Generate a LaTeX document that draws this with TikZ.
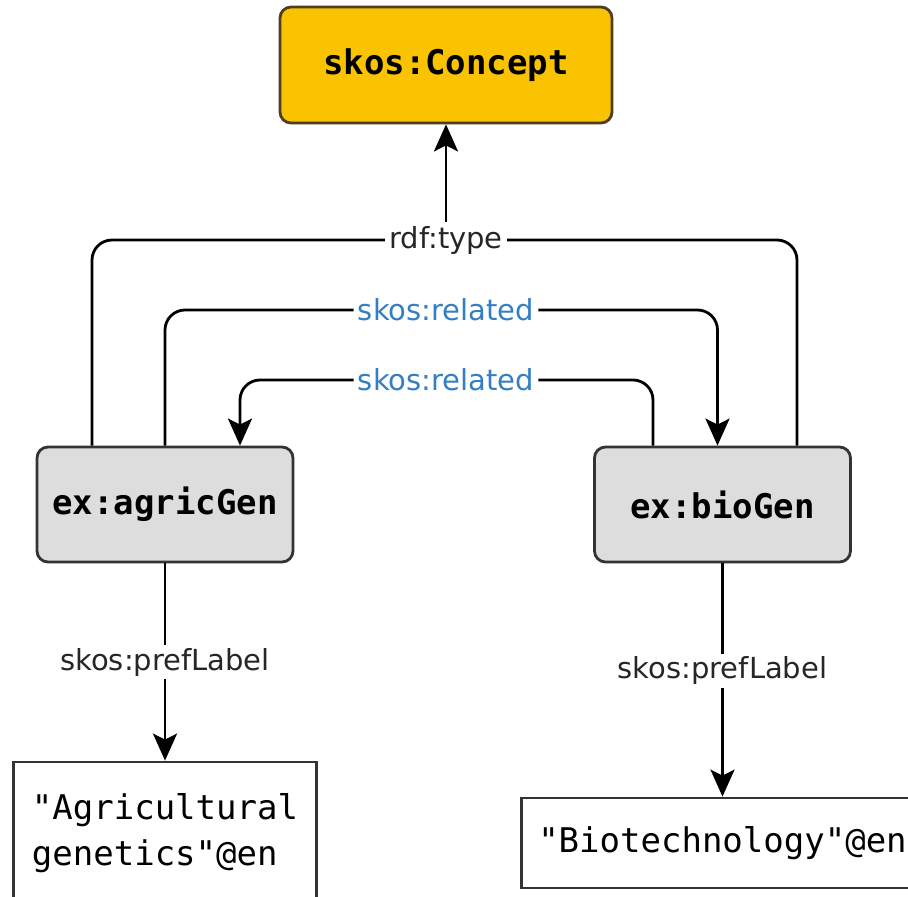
\documentclass[tikz,border=0pt]{standalone}
\usepackage{fontspec}
\setmainfont{DejaVu Sans}
\setmonofont{DejaVu Sans Mono}
\usepackage{tikz}
\usetikzlibrary{arrows.meta}

\definecolor{conceptgold}{RGB}{249,195,2}
\definecolor{conceptedge}{RGB}{78,62,30}
\definecolor{resgray}{RGB}{221,221,221}
\definecolor{relblue}{RGB}{52,126,196}

\begin{document}
\begin{tikzpicture}[x=1pt,y=-1pt,->,>={Stealth[length=27pt,width=24pt,inset=6pt]},
                    line width=2.8pt]
  \tikzstyle{concept}=[draw=conceptedge,fill=conceptgold,rounded corners=11pt,
                       minimum width=332pt,minimum height=116pt,
                       font=\fontsize{34}{40}\selectfont\ttfamily\bfseries]
  \tikzstyle{resource}=[draw=black!80,fill=resgray,rounded corners=11pt,
                        minimum width=256pt,minimum height=115pt,
                        font=\fontsize{34}{40}\selectfont\ttfamily\bfseries]
  \tikzstyle{literal}=[draw=black!80,fill=white,
                       font=\fontsize{34}{46}\selectfont\ttfamily]
  \tikzstyle{prop}=[fill=white,inner sep=3pt,text=black!85,
                    font=\fontsize{29}{34}\selectfont]
  \tikzstyle{rel}=[prop,text=relblue]

  \useasboundingbox (0,0) rectangle (908,897);
  \clip (0,0) rectangle (908,897);

  \node[concept]  (C)  at (446,65)    {skos:Concept};
  \node[resource] (A)  at (165,504.5) {ex:agricGen};
  \node[resource] (B)  at (722.5,504.5) {ex:bioGen};
  \node[literal,minimum width=303pt,minimum height=142pt,align=left]
                  (LA) at (165,833) {"Agricultural\\genetics"@en};
  \node[literal,minimum width=402pt,minimum height=90pt]
                  (LB) at (722.5,843) {"Biotechnology"@en};

  % edge labels on the bends
  \node[prop] (T)  at (446,240) {rdf:type};
  \node[rel]  (R1) at (446,310) {skos:related};
  \node[rel]  (R2) at (446,380) {skos:related};

  \draw[-,rounded corners=20pt] ([xshift=-73pt]A.north) |- (T.west);
  \draw[-,rounded corners=20pt] (T.east) -| ([xshift=74.5pt]B.north);
  \draw (T) -- (C);

  \draw[-,rounded corners=20pt] (A.north) |- (R1.west);
  \draw[rounded corners=20pt] (R1.east) -| ([xshift=-5pt]B.north);

  \draw[-,rounded corners=20pt] ([xshift=-69.5pt]B.north) |- (R2.east);
  \draw[rounded corners=20pt] (R2.west) -| ([xshift=75pt]A.north);

  \draw (A.south) -- node[prop] {skos:prefLabel} (LA.north);
  \draw (B.south) -- node[prop,pos=0.46] {skos:prefLabel} (LB.north);
\end{tikzpicture}
\end{document}
